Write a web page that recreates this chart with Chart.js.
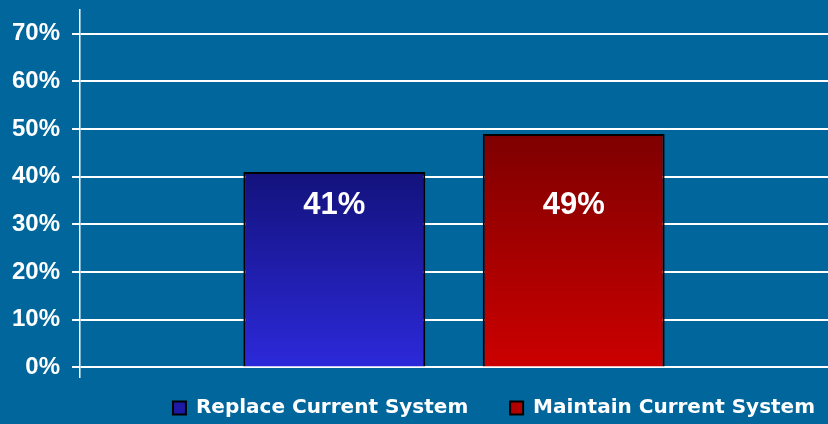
<!DOCTYPE html>
<html>
<head>
<meta charset="utf-8">
<script src="https://cdn.jsdelivr.net/npm/chart.js@4"></script>
<style>
  html, body { margin: 0; padding: 0; background: #00669c; }
  #wrap { width: 828px; height: 424px; }
</style>
</head>
<body>
<div id="wrap"><canvas id="barChart"></canvas></div>
<script>
// chart data
const categories = ['Survey'];
const seriesNames = ['Replace Current System', 'Maintain Current System'];
const seriesValues = [41, 49];
const yTicks = [0, 10, 20, 30, 40, 50, 60, 70];

// colours
const barTop = ['#13127c', '#7e0000'];
const barBottom = ['#2c29da', '#cc0000'];
const legendFill = ['#1d1aa6', '#b00000'];

function barGradient(ctx, i) {
  const chart = ctx.chart;
  const y = chart.scales.y;
  if (!y || !chart.chartArea) return barBottom[i];
  const top = y.getPixelForValue(seriesValues[i]);
  const bottom = y.getPixelForValue(0);
  const g = chart.ctx.createLinearGradient(0, top, 0, bottom);
  g.addColorStop(0, barTop[i]);
  g.addColorStop(1, barBottom[i]);
  return g;
}

// draw the % labels inside the bars
const barLabels = {
  id: 'barLabels',
  afterDatasetsDraw(chart) {
    const ctx = chart.ctx;
    const y = chart.scales.y;
    ctx.save();
    ctx.fillStyle = '#ffffff';
    ctx.font = 'bold 31px "Liberation Sans", Arial, sans-serif';
    ctx.textAlign = 'center';
    ctx.textBaseline = 'middle';
    chart.data.datasets.forEach((ds, i) => {
      const bar = chart.getDatasetMeta(i).data[0];
      ctx.fillText(ds.data[0] + '%', bar.x, y.getPixelForValue(34));
    });
    ctx.restore();
  }
};

function trimPadding(scale) {
  scale.paddingTop = 0;
  scale.paddingBottom = 0;
}

document.addEventListener('DOMContentLoaded', function () {
  const ctx = document.getElementById('barChart').getContext('2d');

  new Chart(ctx, {
    type: 'bar',
    data: {
      labels: categories,
      datasets: seriesNames.map((name, i) => ({
        label: name,
        data: [seriesValues[i]],
        backgroundColor: c => barGradient(c, i),
        borderColor: '#000000',
        borderWidth: 2,
        categoryPercentage: 0.64,
        barPercentage: 0.76
      }))
    },
    options: {
      responsive: true,
      maintainAspectRatio: false,
      animation: false,
      layout: { padding: { top: 10, right: -8, left: 0, bottom: -4 } },
      scales: {
        x: { display: false },
        y: {
          min: -2,
          max: 75,
          afterBuildTicks: scale => { scale.ticks = yTicks.map(v => ({ value: v })); },
          afterFit: scale => { scale.width = 80; trimPadding(scale); },
          border: { color: '#ffffff', width: 1.5 },
          grid: { color: '#ffffff', lineWidth: 2, tickLength: 8, drawTicks: true },
          ticks: {
            color: '#ffffff',
            padding: 12,
            font: { family: '"Liberation Sans", Arial, sans-serif', size: 24, weight: 'bold' },
            callback: v => v + '%'
          }
        }
      },
      plugins: {
        legend: {
          position: 'bottom',
          align: 'end',
          labels: {
            color: '#ffffff',
            boxWidth: 13,
            boxHeight: 13,
            padding: 21,
            font: { family: '"DejaVu Sans", sans-serif', size: 20, weight: 'bold' },
            generateLabels: chart => chart.data.datasets.map((ds, i) => ({
              text: i === 0 ? ds.label + '   ' : ds.label,
              fillStyle: legendFill[i],
              strokeStyle: '#000000',
              lineWidth: 2,
              fontColor: '#ffffff',
              datasetIndex: i
            }))
          }
        },
        tooltip: { enabled: false }
      }
    },
    plugins: [barLabels]
  });
});
</script>
</body>
</html>
